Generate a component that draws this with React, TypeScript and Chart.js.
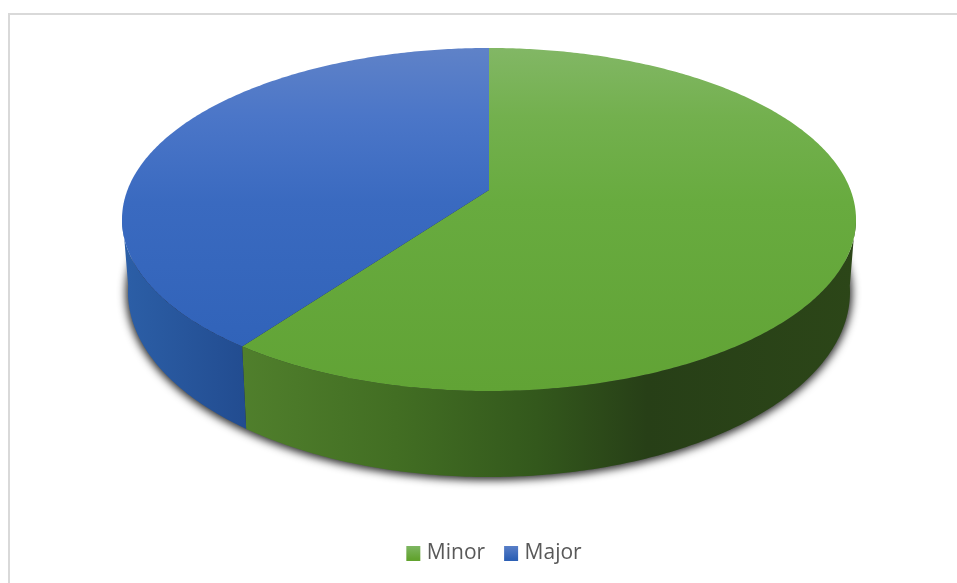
import React, { useEffect, useRef } from "react";
import { Chart, registerables } from "chart.js";

Chart.register(...registerables);

const categories = ["Minor", "Major"];
const shares = [60, 40];
const faceStops = [
  [[0, "#82b765"], [0.2, "#73b04e"], [0.45, "#68ab3f"], [1, "#61a335"]],
  [[0, "#5f82c8"], [0.2, "#4b76c8"], [0.45, "#3a6ac0"], [1, "#2e61b7"]],
];
const wallStops = [
  [[0, "#507f2c"], [0.25, "#426e23"], [0.48, "#33581c"], [0.66, "#273f17"], [1, "#2c4618"]],
  [[0, "#2c5fa7"], [1, "#224c90"]],
];
const swatchStops = [
  [[0, "#82b96a"], [1, "#62a32f"]],
  [[0, "#5f83ca"], [1, "#2d60b5"]],
];

// Perspective of the disc: both rims are ellipses seen through the same tilt.
const TILT = -0.172;
const CENTER_X = 489;
const TOP_RIM = { cy: 219.5, rx: 367, ry: 171.5 };
const BOTTOM_RIM = { cy: 292, rx: 361, ry: 185 };
const SHADOW_RIM = { cy: 293, rx: 363, ry: 187 };
const SHADOW_THROW = 2000;
const SQUASH = Math.sqrt(1 - TILT * TILT);
const WALL_FROM = (8 * Math.PI) / 180;
const WALL_TO = (172 * Math.PI) / 180;

type Rim = { cy: number; rx: number; ry: number };

const rimPoint = (rim: Rim, angle: number) => {
  const u = Math.cos(angle);
  const v = Math.sin(angle);
  const w = 1 + TILT * v;
  return {
    x: CENTER_X + (rim.rx * SQUASH * u) / w,
    y: rim.cy + rim.ry * TILT + (rim.ry * SQUASH * SQUASH * v) / w,
  };
};

const traceRim = (ctx: CanvasRenderingContext2D, rim: Rim, from: number, to: number) => {
  const steps = Math.max(2, Math.ceil(Math.abs(to - from) * 90));
  for (let i = 0; i <= steps; i++) {
    const p = rimPoint(rim, from + ((to - from) * i) / steps);
    ctx.lineTo(p.x, p.y);
  }
};

const ramp = (g: CanvasGradient, stops: any[]) => {
  stops.forEach(([at, colour]) => g.addColorStop(at, colour));
  return g;
};

// Paints the pie's arc elements as a thick tilted disc instead of flat wedges.
const discPlugin = {
  id: "disc",
  beforeDatasetsDraw(chart: any) {
    const ctx: CanvasRenderingContext2D = chart.ctx;
    const arcs = chart.getDatasetMeta(0).data;
    ctx.save();

    // Soft shadow under the disc; the casting shape itself sits off the canvas.
    ctx.save();
    ctx.shadowColor = "rgba(0,0,0,0.85)";
    ctx.shadowBlur = 8;
    ctx.shadowOffsetX = SHADOW_THROW;
    ctx.translate(-SHADOW_THROW, 0);
    ctx.fillStyle = "#000";
    ctx.beginPath();
    traceRim(ctx, SHADOW_RIM, 0, Math.PI * 2);
    ctx.closePath();
    ctx.fill();
    ctx.restore();

    // Side wall: one band per slice, clipped to the side that faces the viewer.
    arcs.forEach((arc: any, i: number) => {
      const from = Math.max(arc.startAngle, WALL_FROM);
      const to = Math.min(arc.endAngle, WALL_TO);
      if (to <= from) return;
      const xs = [rimPoint(TOP_RIM, from).x, rimPoint(TOP_RIM, to).x, rimPoint(BOTTOM_RIM, from).x, rimPoint(BOTTOM_RIM, to).x];
      const g = ctx.createLinearGradient(Math.min(...xs), 0, Math.max(...xs), 0);
      ctx.fillStyle = ramp(g, wallStops[i]);
      ctx.beginPath();
      traceRim(ctx, TOP_RIM, from, to);
      traceRim(ctx, BOTTOM_RIM, to, from);
      ctx.closePath();
      ctx.fill();
    });

    // Top face: wedges meet at the rim's vanishing centre.
    const apexY = TOP_RIM.cy + TOP_RIM.ry * TILT;
    const faceTop = TOP_RIM.cy - TOP_RIM.ry;
    const faceBottom = TOP_RIM.cy + TOP_RIM.ry;
    arcs.forEach((arc: any, i: number) => {
      ctx.fillStyle = ramp(ctx.createLinearGradient(0, faceTop, 0, faceBottom), faceStops[i]);
      ctx.beginPath();
      ctx.moveTo(CENTER_X, apexY);
      traceRim(ctx, TOP_RIM, arc.startAngle, arc.endAngle);
      ctx.closePath();
      ctx.fill();
    });

    ctx.restore();
    return false;
  },
};

export default function App() {
  const ref = useRef<HTMLCanvasElement>(null);

  useEffect(() => {
    const chart = new Chart(ref.current!, {
      type: "pie",
      data: {
        labels: categories,
        datasets: [{ data: shares, backgroundColor: ["#68ab3f", "#3a6ac0"] }],
      },
      options: {
        responsive: false,
        animation: false,
        radius: 361,
        layout: { padding: { left: 35, bottom: 9 } },
        plugins: {
          tooltip: { enabled: false },
          legend: {
            position: "bottom",
            labels: {
              boxWidth: 6,
              boxHeight: 7,
              padding: 23,
              color: "#595959",
              font: { family: "'Open Sans'", size: 21 },
              generateLabels: (c: any) =>
                categories.map((text, i) => {
                  const g = ramp(c.ctx.createLinearGradient(0, 544, 0, 559), swatchStops[i]);
                  return {
                    text,
                    index: i,
                    hidden: false,
                    fillStyle: g,
                    strokeStyle: g,
                    lineWidth: 8,
                    fontColor: "#595959",
                  };
                }),
            },
          },
        },
      } as any,
      plugins: [discPlugin as any],
    });
    return () => chart.destroy();
  }, []);

  return (
    <div style={{ position: "absolute", left: 0, top: 0, width: 957, height: 583, overflow: "hidden", background: "#fff" }}>
      <div style={{ position: "absolute", left: 8, top: 13, width: 1000, height: 700, border: "2px solid #d9d9d9" }} />
      <canvas ref={ref} width={957} height={583} style={{ position: "absolute", left: 0, top: 0 }} />
    </div>
  );
}
